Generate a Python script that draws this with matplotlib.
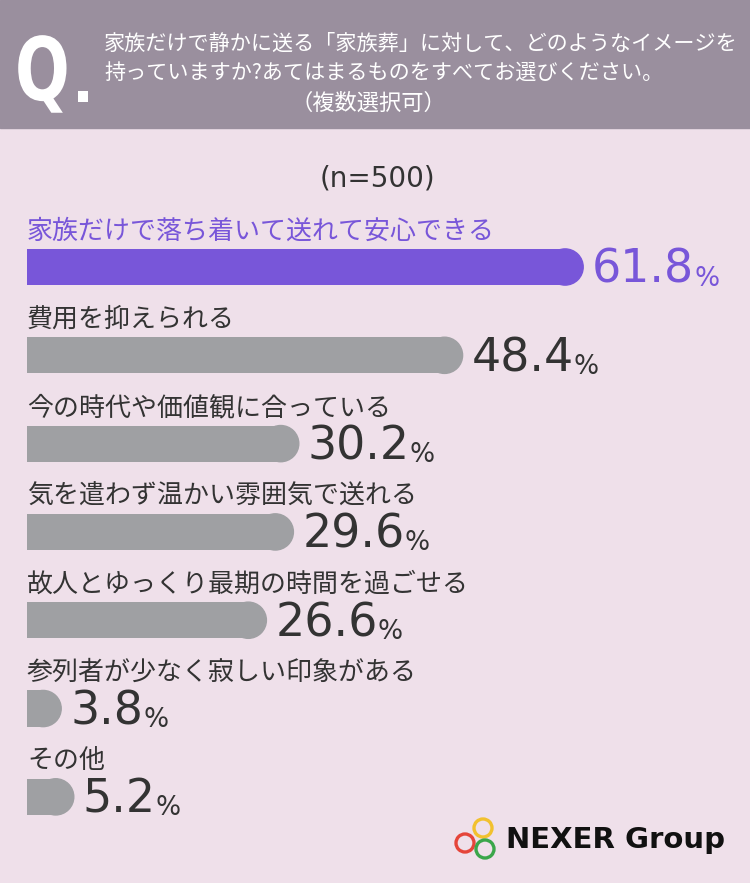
import matplotlib
matplotlib.use("Agg")
import matplotlib.pyplot as plt
from matplotlib.patches import Rectangle, Ellipse, Circle, PathPatch
from matplotlib.textpath import TextPath
from matplotlib.font_manager import FontProperties
from matplotlib.transforms import Affine2D

plt.rcParams['font.family'] = ['Noto Sans CJK JP', 'DejaVu Sans']

# data
labels = [
    "家族だけで落ち着いて送れて安心できる",
    "費用を抑えられる",
    "今の時代や価値観に合っている",
    "気を遣わず温かい雰囲気で送れる",
    "故人とゆっくり最期の時間を過ごせる",
    "参列者が少なく寂しい印象がある",
    "その他",
]
values = [61.8, 48.4, 30.2, 29.6, 26.6, 3.8, 5.2]

question = [
    "家族だけで静かに送る「家族葬」に対して、どのようなイメージを",
    "持っていますか?あてはまるものをすべてお選びください。",
]
question_note = "（複数選択可）"
sample = "(n=500)"

bg = "#efe0ea"
header_col = "#9a8f9e"
purple = "#7856d9"
gray = "#9fa0a3"
dark = "#333333"

W, H = 750, 883
fig = plt.figure(figsize=(W / 100, H / 100), dpi=100)
fig.patch.set_facecolor(bg)

# decoration layer in pixel coords
deco = fig.add_axes([0, 0, 1, 1])
deco.set_xlim(0, W)
deco.set_ylim(H, 0)
deco.axis("off")
deco.add_patch(Rectangle((0, 0), W, 128, color=header_col, zorder=0))

# narrow "Q."
qpath = TextPath((0, 0), "Q", size=92, prop=FontProperties(family="DejaVu Sans", weight="bold"))
qpath = Affine2D().scale(0.7, -0.95).translate(15, 100).transform_path(qpath)
deco.add_patch(PathPatch(qpath, color="white", lw=0))
deco.add_patch(Rectangle((78, 91), 10, 11, color="white", lw=0))

deco.text(104, 44, question[0], color="white", fontsize=15.2, va="center", ha="left")
deco.text(104, 74, question[1], color="white", fontsize=15.2, va="center", ha="left")
deco.text(368, 103, question_note, color="white", fontsize=16, va="center", ha="center")
deco.text(377, 178, sample, color=dark, fontsize=20, family="DejaVu Sans",
          va="center", ha="center")

# logo
for (cx, cy), c in zip([(483, 828), (465, 843), (485, 849)],
                       ["#f2c12e", "#e5453a", "#3aa64a"]):
    deco.add_patch(Circle((cx, cy), 9, fill=False, ec=c, lw=2.4))
deco.text(506, 840, "NEXER Group", color="#111111", fontsize=21, fontweight="bold",
          family="DejaVu Sans", va="center", ha="left")

# bars
ax = fig.add_axes([27 / W, 1 - 841 / H, 720 / W, (841 - 222.85) / H])
ax.set_xlim(0, 80)
ax.set_ylim(len(values) - 0.5, -0.5)
ax.axis("off")
ax.patch.set_alpha(0)

bar_h = 0.41
px_per_x = ax.bbox.width / 80
px_per_y = ax.bbox.height / len(values)
r = bar_h * px_per_y / 2 / px_per_x  # cap radius in x data units

for i, (lab, v) in enumerate(zip(labels, values)):
    col = purple if i == 0 else gray
    tcol = purple if i == 0 else dark
    ax.barh(i, v - r, height=bar_h, color=col, left=0)
    ax.add_patch(Ellipse((v - r, i), 2 * r, bar_h, color=col))
    ax.text(0, i - 0.41, lab, color=tcol, fontsize=18.7, va="center", ha="left")
    t = ax.text(v + 1.0, i + 0.18, f"{v:.1f}", color=tcol, fontsize=33,
                family="DejaVu Sans", va="baseline", ha="left")
    ax.annotate("%", xy=(1, 0), xycoords=t, xytext=(0, 1), textcoords="offset points",
                color=tcol, fontsize=19, family="DejaVu Sans", va="bottom", ha="left")

fig.savefig("out.png", dpi=100, facecolor=bg)
